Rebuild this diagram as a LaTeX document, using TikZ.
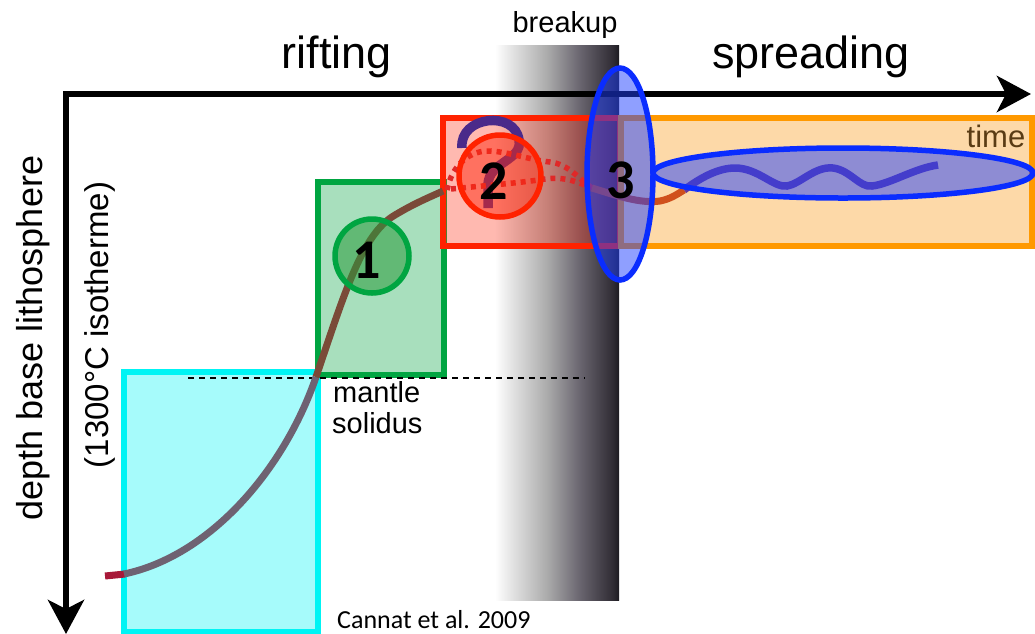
\documentclass[tikz,border=0pt]{standalone}
\usepackage{fontspec}
\setmainfont{Liberation Sans}
\newfontfamily\calib{Carlito}
\usetikzlibrary{arrows.meta,shapes.geometric}

\definecolor{cyanedge}{HTML}{00F4F4}
\definecolor{cyanfill}{HTML}{A6FBFB}
\definecolor{greenedge}{HTML}{00A541}
\definecolor{greenfill}{HTML}{A8DFBD}
\definecolor{greendisc}{HTML}{2A9A3A}
\definecolor{rededge}{HTML}{FF2200}
\definecolor{redtint}{HTML}{FF2A10}
\definecolor{orangeedge}{HTML}{FF9900}
\definecolor{orangefill}{HTML}{FDD9A8}
\definecolor{blueedge}{HTML}{0A2CFF}
\definecolor{bluetint}{HTML}{2040FF}
\definecolor{stubred}{HTML}{A81838}
\definecolor{coolpath}{HTML}{6E6272}
\definecolor{brownpath}{HTML}{7A4A38}
\definecolor{dotred}{HTML}{E02828}
\definecolor{qpurple}{HTML}{4A2A8A}
\definecolor{wavepurple}{HTML}{6A3A98}
\definecolor{rustpath}{HTML}{D0501C}
\definecolor{timebrown}{HTML}{5A3C14}
\definecolor{bandA}{HTML}{E2E2E2}
\definecolor{bandB}{HTML}{ABABAB}
\definecolor{bandC}{HTML}{6A6670}
\definecolor{bandD}{HTML}{302C34}
\definecolor{bandE}{HTML}{1C1A20}

% grey-to-black band marking continental breakup
\pgfdeclarehorizontalshading{breakupshade}{100bp}{%
  color(0bp)=(white); color(25bp)=(white); color(32bp)=(bandA);
  color(46bp)=(bandB); color(59bp)=(bandC); color(72.5bp)=(bandD);
  color(75bp)=(bandE); color(100bp)=(bandE)}

\tikzset{
  axisline/.style={line width=6pt, line join=miter,
    {Stealth[length=34pt,width=36pt,inset=9pt]}-{Stealth[length=34pt,width=36pt,inset=9pt]}},
  stagebox/.style={line width=5.5pt},
  disc/.style={circle, line width=5.5pt, inner sep=0pt},
  num/.style={font=\calib\bfseries\fontsize{56}{56}\selectfont, inner sep=0pt},
  trend/.style={line width=7pt, line cap=butt},
  dotline/.style={line width=5.5pt, dotred, dash pattern=on 5pt off 5pt},
  lab/.style={inner sep=0pt, anchor=base},
}

\begin{document}
\begin{tikzpicture}[x=1pt,y=-1pt]
\useasboundingbox (0,0) rectangle (1035,633);

% breakup band
\shade[shading=breakupshade] (495,45) rectangle (619,600);

% axes: time to the right, depth downwards
\coordinate (corner) at (66,94);
\coordinate (tend) at (1031,94);
\coordinate (dend) at (66,634);
\draw[axisline] (tend) -- (corner) -- (dend);

% stage boxes
\draw[stagebox, draw=cyanedge, fill=cyanfill] (124,372) rectangle (318,632);
\draw[stagebox, draw=greenedge, fill=greenfill] (318,182) rectangle (444,375);
\draw[stagebox, draw=rededge, fill=redtint, fill opacity=0.33] (443,118) rectangle (620,246);
\draw[stagebox, draw=orangeedge, fill=orangefill] (621,118) rectangle (1032,246);

% mantle solidus level
\draw[line width=2pt, dash pattern=on 6pt off 5pt] (188,378) -- (585,378);

% lithosphere base through time
\draw[trend, stubred] (105,576) -- (125,574);
\draw[trend, coolpath] (124,574) .. controls (210,556) and (284,470) .. (316,377);
\draw[trend, brownpath] (316,377) .. controls (345,292) and (362,234) .. (395,215)
   .. controls (415,203) and (430,197) .. (443,191);
% uncertain part around breakup: a question mark and two dotted strands
\draw[line width=9.5pt, qpurple] (462,148) .. controls (459,116) and (515,110) .. (519,140)
   .. controls (523,160) and (489,162) .. (488,184) -- (488,208);
\draw[dotline] (447,190) .. controls (452,165) and (470,150) .. (490,151)
   .. controls (510,152) and (530,160) .. (550,162)
   .. controls (568,164) and (578,178) .. (592,188);
\draw[dotline] (451,189) .. controls (480,186) and (520,183) .. (545,179)
   .. controls (565,176) and (580,183) .. (592,188);
% steady spreading
\draw[trend, rustpath] (592,188) .. controls (615,195) and (640,204) .. (660,201)
   .. controls (670,199) and (676,195) .. (684,190);
\draw[line width=7.5pt, wavepurple] (684,190) .. controls (700,178) and (718,168) .. (735,168)
   .. controls (758,168) and (774,188) .. (787,186)
   .. controls (800,184) and (815,166) .. (833,168)
   .. controls (850,170) and (860,188) .. (872,186)
   .. controls (890,184) and (915,168) .. (938,165);

% highlighted stages
\node[disc, draw=greenedge, fill=greendisc, fill opacity=0.55, minimum size=74pt] (c1) at (372,256) {};
\node[disc, draw=rededge, fill=redtint, fill opacity=0.5, minimum size=82pt] (c2) at (500,176) {};
\node[ellipse, line width=5.5pt, draw=blueedge, fill=bluetint, fill opacity=0.5,
      minimum width=66pt, minimum height=212pt, inner sep=0pt] (e3) at (620,174) {};
\node[ellipse, line width=5.5pt, draw=blueedge, fill=bluetint, fill opacity=0.5,
      minimum width=380pt, minimum height=50pt, inner sep=0pt] (e4) at (843,173) {};

\node[num] (n1) at (367,260) {1};
\node[num] (n2) at (494,181) {2};
\node[num] (n3) at (621,180) {3};

% labels
\node[lab, font=\fontsize{45}{45}\selectfont] (rift) at (337,68) {rifting};
\node[lab, font=\fontsize{45}{45}\selectfont] (spread) at (811,68) {spreading};
\node[lab, font=\fontsize{29}{29}\selectfont] (brk) at (565,32) {breakup};
\node[lab, font=\fontsize{31}{31}\selectfont, text=timebrown] (tm) at (996,147) {time};
\node[lab, anchor=base west, font=\fontsize{29}{29}\selectfont] (mant) at (333,402) {mantle};
\node[lab, anchor=base west, font=\fontsize{29}{29}\selectfont] (sol) at (332,433) {solidus};
\node[lab, anchor=base west, font=\calib\fontsize{26}{26}\selectfont] (ref) at (337,628) {Cannat et al. 2009};
\node[inner sep=0pt, rotate=90, font=\fontsize{36}{36}\selectfont] (dep) at (33,338) {depth base lithosphere};
\node[inner sep=0pt, rotate=90, font=\fontsize{33}{33}\selectfont] (iso) at (100,325) {(1300°C isotherme)};
\end{tikzpicture}
\end{document}
